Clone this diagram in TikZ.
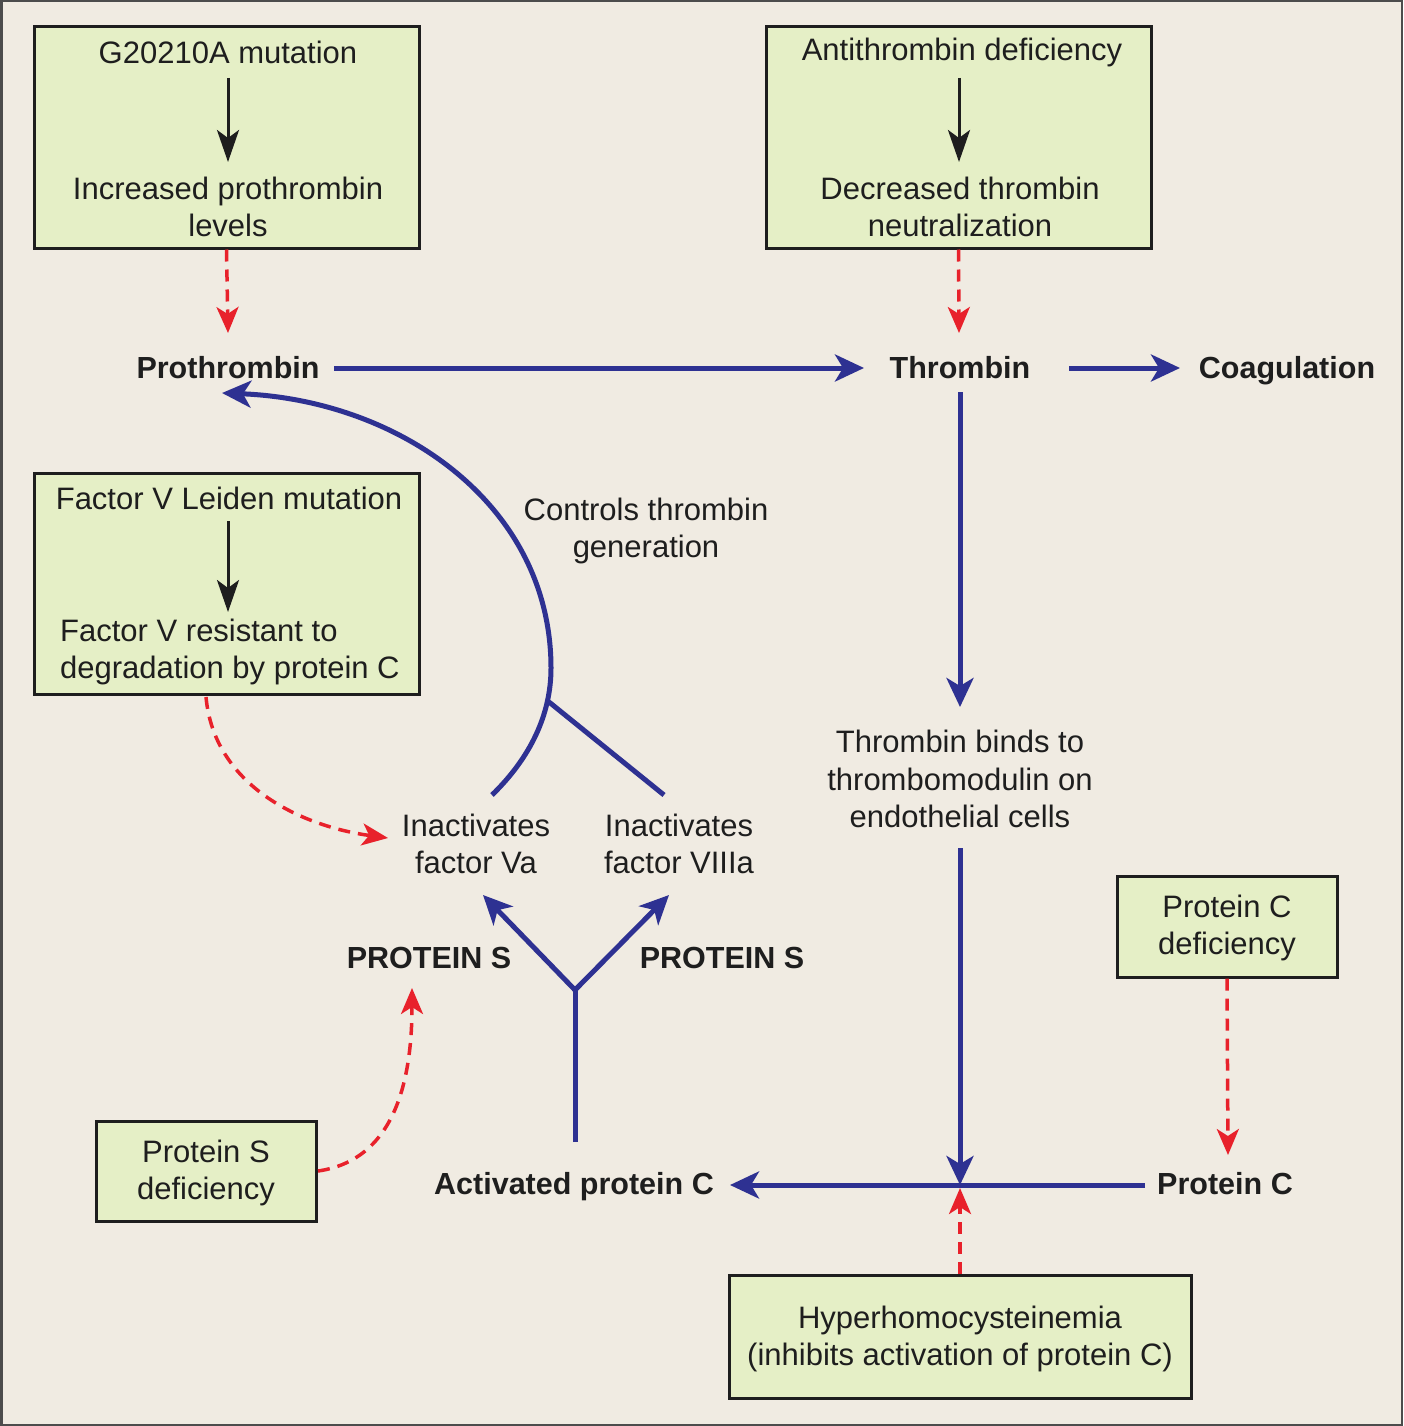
\documentclass[tikz,border=0pt]{standalone}
\usepackage{fontspec}
\setmainfont{Liberation Sans}
\usetikzlibrary{arrows.meta}
\definecolor{bg}{HTML}{F0EBE2}
\definecolor{boxfill}{HTML}{E5EFC6}
\definecolor{pblue}{HTML}{2E3192}
\definecolor{pred}{HTML}{E8212B}
\definecolor{ink}{HTML}{1E1E1E}
\begin{document}
\begin{tikzpicture}[x=1pt,y=-1pt,
  box/.style={draw=ink, line width=3pt, fill=boxfill, inner sep=0pt, minimum width=#1},
  txt/.style={font=\fontsize{31}{37.5}\selectfont, text=ink, align=center, inner sep=0pt},
  btxt/.style={font=\fontsize{30.5}{37}\selectfont\bfseries, text=ink, inner sep=0pt, anchor=base},
  karrow/.style={ink, line width=3pt, -{Stealth[length=32pt,width=22pt,inset=8pt]}},
  barrow/.style={pblue, line width=5pt, -{Stealth[length=29pt,width=27pt,inset=8pt]}},
  bline/.style={pblue, line width=5pt},
  rarrow/.style={pred, line width=3.5pt, dash pattern=on 12pt off 8pt, -{Stealth[length=26pt,width=22pt,inset=7pt]}}
]
\useasboundingbox (0,0) rectangle (1403,1426);
\fill[bg] (0,0) rectangle (1403,1426);
\draw[black!70, line width=2.5pt] (1.25,1.25) rectangle (1401.75,1424.75);

% boxes
\node[box=385pt, minimum height=221pt] (b1) at (226.5,137.5) {};
\node[box=385pt, minimum height=221pt] (b2) at (958.5,137.5) {};
\node[box=385pt, minimum height=221pt] (b3) at (226.5,583.5) {};
\node[box=220pt, minimum height=101pt] (b4) at (1227,926.5) {};
\node[box=220pt, minimum height=100pt] (b5) at (206,1171) {};
\node[box=462pt, minimum height=123pt] (b6) at (960,1336.5) {};

% texts in boxes
\node[txt] (n1a) at (228,52) {G20210A mutation};
\node[txt] (n1b) at (228,207) {Increased prothrombin\\levels};
\node[txt] (n2a) at (962,52) {Antithrombin deficiency};
\node[txt] (n2b) at (960,207) {Decreased thrombin\\neutralization};
\node[txt] (n3a) at (229,498) {Factor V Leiden mutation};
\node[txt, align=left, anchor=west] (n3b) at (60,652) {Factor V resistant to\\degradation by protein C};
\node[txt] (pcdef) at (1227,928) {Protein C\\deficiency};
\node[txt] (psdef) at (206,1173) {Protein S\\deficiency};
\node[txt] (hyp) at (960,1339) {Hyperhomocysteinemia\\(inhibits activation of protein C)};

% free texts
\node[btxt] (proth) at (228,378) {Prothrombin};
\node[btxt] (thromb) at (960,378) {Thrombin};
\node[btxt] (coag) at (1287,378) {Coagulation};
\node[txt] (ctrl) at (646,531) {Controls thrombin\\generation};
\node[txt] (tbind) at (960,779) {Thrombin binds to\\thrombomodulin on\\endothelial cells};
\node[txt] (inVa) at (476,844) {Inactivates\\factor Va};
\node[txt] (inVIII) at (679,844) {Inactivates\\factor VIIIa};
\node[btxt] (ps1) at (429,968) {PROTEIN S};
\node[btxt] (ps2) at (722,968) {PROTEIN S};
\node[btxt] (apc) at (574,1194) {Activated protein C};
\node[btxt] (pc) at (1225,1194) {Protein C};

% coordinates
\coordinate (k1s) at (228,78);   \coordinate (k1t) at (228,162);
\coordinate (k2s) at (959,78);   \coordinate (k2t) at (959,162);
\coordinate (k3s) at (228,521);  \coordinate (k3t) at (228,612);
\coordinate (pth) at (228,333);  \coordinate (tht) at (959,333);
\coordinate (pr1) at (334,368);  \coordinate (pr2) at (864,368);
\coordinate (co1) at (1069,368); \coordinate (co2) at (1180,368);
\coordinate (td1) at (960,392);  \coordinate (td2) at (960,707);
\coordinate (tb1) at (960,848);
\coordinate (jn) at (960,1185);
\coordinate (ybr) at (575,990);
\coordinate (ybot) at (575,1142);
\coordinate (tipVa) at (483,895);
\coordinate (tipVIII) at (669,895);
\coordinate (arcS) at (492,795);
\coordinate (arcM) at (551,668);
\coordinate (arcT) at (222,393);
\coordinate (brA) at (549,702);
\coordinate (brB) at (664,795);
\coordinate (fvlS) at (206,697);
\coordinate (fvlT) at (388,838);
\coordinate (psS) at (318,1171);
\coordinate (psT) at (412,988);
\coordinate (pcS) at (1145,1185);
\coordinate (apcT) at (730,1185);
\coordinate (pcdT) at (1228,1155);
\coordinate (hypT) at (960,1188);

% black arrows inside boxes
\draw[karrow] (k1s) -- (k1t);
\draw[karrow] (k2s) -- (k2t);
\draw[karrow] (k3s) -- (k3t);

% red dashed arrows
\draw[rarrow] (b1.south) -- (pth);
\draw[rarrow] (b2.south) -- (tht);
\draw[rarrow] (b4.south) -- (pcdT);
\draw[rarrow] (b6.north) -- (hypT);
\draw[rarrow] (fvlS) .. controls (214,785) and (300,826) .. (fvlT);
\draw[rarrow] (psS) .. controls (395,1160) and (412,1080) .. (psT);

% blue connectors
\draw[barrow] (pr1) -- (pr2);
\draw[barrow] (co1) -- (co2);
\draw[barrow] (td1) -- (td2);
\draw[barrow] (tb1) -- (jn);
\draw[barrow] (pcS) -- (apcT);
\draw[bline] (ybot) -- (ybr);
\draw[barrow] (ybr) -- (tipVa);
\draw[barrow] (ybr) -- (tipVIII);
\draw[barrow] (arcS) .. controls (530,758) and (551,715) .. (arcM)
  .. controls (551,505) and (400,400) .. (arcT);
\draw[bline] (brA) -- (brB);
\end{tikzpicture}
\end{document}
